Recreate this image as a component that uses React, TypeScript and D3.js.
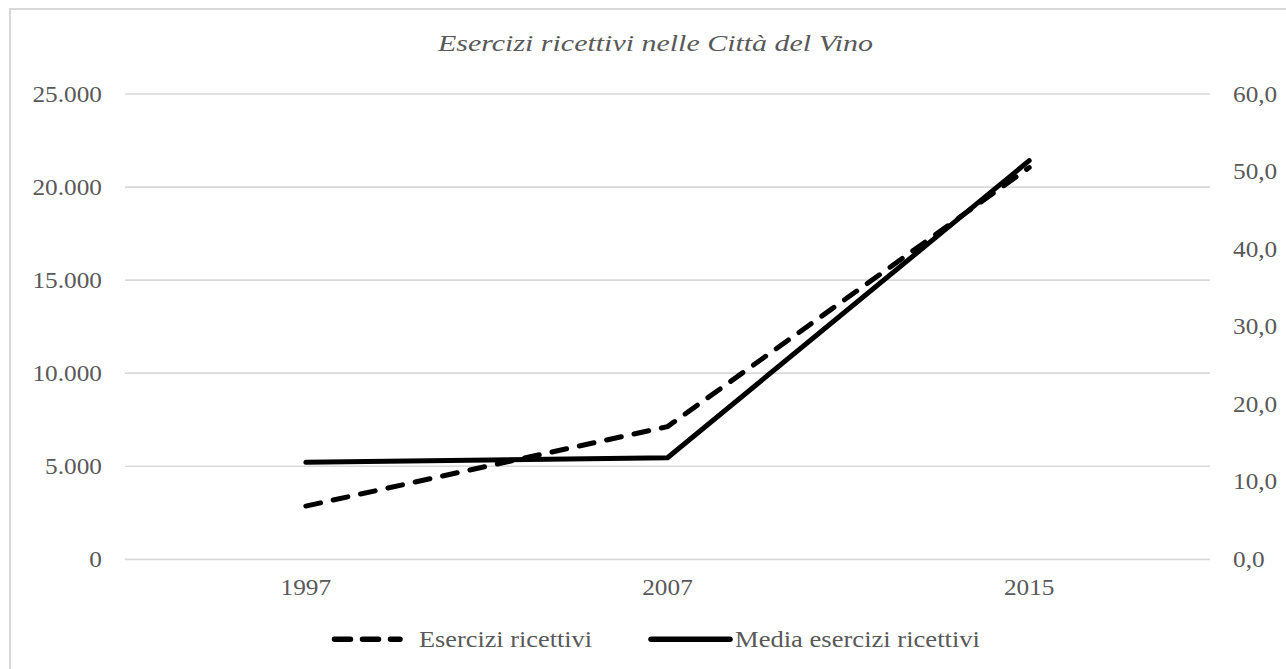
import React, { useEffect, useRef } from "react";
import * as d3 from "d3";

const categories = ["1997", "2007", "2015"];
const eserciziRicettivi = [2860, 7130, 21050];
const mediaEsercizi = [12.5, 13.1, 51.4];
const leftTicks = [0, 5000, 10000, 15000, 20000, 25000];
const rightTicks = [0, 10, 20, 30, 40, 50, 60];
const title = "Esercizi ricettivi nelle Città del Vino";
const seriesNames = ["Esercizi ricettivi", "Media esercizi ricettivi"];

const W = 1286;
const H = 669;
const FONT = "'Liberation Serif', 'Times New Roman', serif";
const TXT = "#595959";
const GRID = "#d9d9d9";

export default function App() {
  const ref = useRef<SVGSVGElement | null>(null);

  useEffect(() => {
    const svg = d3.select(ref.current);
    svg.selectAll("*").remove();

    const left = 125, right = 1210, top = 94, bottom = 559.3;
    const x = d3.scalePoint<string>().domain(categories).range([left, right]).padding(0.5);
    const yL = d3.scaleLinear().domain([0, 25000]).range([bottom, top]);
    const yR = d3.scaleLinear().domain([0, 60]).range([bottom, top]);

    const fmtL = (v: number) => d3.format(",")(v).replace(/,/g, ".");
    const fmtR = (v: number) => d3.format(".1f")(v).replace(".", ",");

    // frame
    svg.append("rect").attr("x", 10).attr("y", 9).attr("width", 1300).attr("height", 700)
      .attr("fill", "white").attr("stroke", GRID).attr("stroke-width", 2);

    // gridlines
    svg.append("g").selectAll("line").data(leftTicks).join("line")
      .attr("x1", left).attr("x2", right)
      .attr("y1", d => yL(d)).attr("y2", d => yL(d))
      .attr("stroke", GRID).attr("stroke-width", 1.7);

    const sx = 1.1;
    // left labels
    svg.append("g").selectAll("text").data(leftTicks).join("text")
      .attr("transform", d => `translate(102,${yL(d)}) scale(${sx},1)`)
      .attr("dy", "0.33em").attr("text-anchor", "end")
      .attr("font-family", FONT).attr("font-size", 23).attr("fill", TXT)
      .text(d => fmtL(d));

    // right labels
    svg.append("g").selectAll("text").data(rightTicks).join("text")
      .attr("transform", d => `translate(1233,${yR(d)}) scale(${sx},1)`)
      .attr("dy", "0.33em").attr("text-anchor", "start")
      .attr("font-family", FONT).attr("font-size", 23).attr("fill", TXT)
      .text(d => fmtR(d));

    // category labels
    svg.append("g").selectAll("text").data(categories).join("text")
      .attr("transform", d => `translate(${x(d)},595) scale(${sx},1)`)
      .attr("text-anchor", "middle")
      .attr("font-family", FONT).attr("font-size", 23).attr("fill", TXT)
      .text(d => d);

    // title
    svg.append("text")
      .attr("x", 655.5).attr("y", 51).attr("text-anchor", "middle")
      .attr("font-family", FONT).attr("font-style", "italic").attr("font-size", 24)
      .attr("fill", TXT)
      .attr("textLength", 435).attr("lengthAdjust", "spacingAndGlyphs")
      .text(title);

    // lines
    const line = d3.line<[string, number]>();
    const dPts = categories.map((c, i) => [x(c) as number, yL(eserciziRicettivi[i])] as [number, number]);
    const mPts = categories.map((c, i) => [x(c) as number, yR(mediaEsercizi[i])] as [number, number]);

    svg.append("path")
      .attr("d", d3.line()(mPts) as string)
      .attr("fill", "none").attr("stroke", "#000").attr("stroke-width", 5)
      .attr("stroke-linejoin", "round").attr("stroke-linecap", "round");

    svg.append("path")
      .attr("d", d3.line()(dPts) as string)
      .attr("fill", "none").attr("stroke", "#000").attr("stroke-width", 5)
      .attr("stroke-dasharray", "15 13")
      .attr("stroke-linejoin", "round").attr("stroke-linecap", "round");
    void line;

    // legend
    const ly = 639.3;
    const lg = svg.append("g");
    lg.append("line").attr("x1", 334.5).attr("x2", 400).attr("y1", ly).attr("y2", ly)
      .attr("stroke", "#000").attr("stroke-width", 5.5).attr("stroke-linecap", "round")
      .attr("stroke-dasharray", "16 12");
    lg.append("text").attr("x", 419).attr("y", ly).attr("dy", "0.33em")
      .attr("font-family", FONT).attr("font-size", 23).attr("fill", TXT)
      .attr("textLength", 173).attr("lengthAdjust", "spacingAndGlyphs")
      .text(seriesNames[0]);
    lg.append("line").attr("x1", 651).attr("x2", 730).attr("y1", ly).attr("y2", ly)
      .attr("stroke", "#000").attr("stroke-width", 5.5).attr("stroke-linecap", "round");
    lg.append("text").attr("x", 735).attr("y", ly).attr("dy", "0.33em")
      .attr("font-family", FONT).attr("font-size", 23).attr("fill", TXT)
      .attr("textLength", 245).attr("lengthAdjust", "spacingAndGlyphs")
      .text(seriesNames[1]);
  }, []);

  return (
    <svg
      ref={ref}
      width={W}
      height={H}
      style={{ position: "absolute", left: 0, top: 0, background: "white", display: "block" }}
    />
  );
}
